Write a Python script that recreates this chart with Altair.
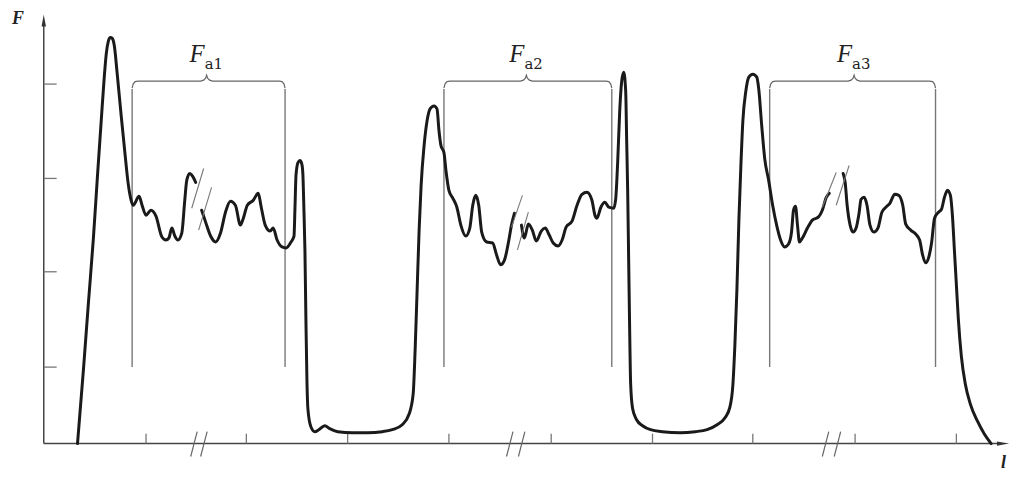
import altair as alt
import pandas as pd

# ---------------- data (l, F) ----------------
# the curve is split into four pieces at the "//" break marks
seg_a_l = [34, 40, 45, 50, 54, 58, 61, 63, 65, 67, 69, 71, 74, 78, 82, 85, 88, 90, 96, 99,
           103, 108, 113, 119, 123, 126, 129, 132, 135, 139, 142, 144, 147, 150, 153]
seg_a_F = [0, 75, 142, 207, 268, 327, 370, 393, 405, 409, 408, 401, 372, 330, 290, 262, 245, 240, 249, 240,
           230, 235, 229, 208, 205, 207, 217, 209, 205, 212, 245, 265, 272, 269, 263]

seg_b_l = [159, 163, 168, 173, 178, 183, 188, 193, 198, 201, 205, 211, 216, 219, 223, 228, 231, 235, 240, 244,
           249, 252, 253, 254, 256, 258, 260, 261, 262, 263, 264, 265, 266, 269, 273, 277, 283, 288, 296, 311,
           326, 341, 351, 361, 368, 372, 374, 376, 378, 380, 383, 386, 389, 393, 396, 398, 400, 403, 405, 408,
           412, 416, 420, 425, 429, 432, 435, 438, 441, 446, 452, 456, 460, 464, 468, 471, 474]
seg_b_F = [235, 223, 209, 203, 212, 233, 244, 240, 220, 227, 240, 245, 252, 238, 220, 214, 217, 205, 198, 197,
           203, 209, 238, 270, 283, 285, 281, 270, 235, 195, 125, 65, 35, 17, 12, 14, 18, 15, 12, 11,
           11, 12, 14, 19, 30, 50, 95, 155, 215, 260, 300, 325, 337, 340, 337, 315, 300, 293, 275, 255,
           247, 238, 220, 209, 217, 240, 250, 240, 213, 203, 202, 190, 180, 185, 203, 220, 232]

seg_c_l = [481, 484, 488, 492, 496, 501, 505, 509, 513, 518, 522, 526, 532, 537, 542, 547, 552, 555, 557, 561,
           565, 569, 574, 576, 578, 580, 582, 584, 586, 587, 588, 589, 590, 591, 593, 597, 603, 611, 623, 641,
           656, 668, 678, 686, 691, 694, 696, 698, 700, 702, 704, 707, 710, 714, 718, 720, 723, 726, 730, 734,
           738, 742, 746, 750, 753, 755, 757, 759, 761, 764, 769, 774, 780, 784, 788, 791]
seg_c_F = [220, 207, 221, 215, 204, 214, 217, 210, 202, 199, 205, 218, 224, 240, 251, 253, 245, 230, 227, 238,
           243, 238, 237, 247, 285, 335, 365, 374, 355, 305, 255, 185, 115, 60, 35, 24, 18, 14, 12, 11,
           12, 14, 19, 26, 37, 60, 100, 155, 225, 280, 325, 355, 369, 372, 369, 357, 320, 287, 265, 240,
           220, 205, 198, 201, 213, 235, 239, 220, 203, 207, 217, 225, 228, 235, 248, 252]

seg_d_l = [805, 807, 809, 812, 815, 818, 821, 823, 826, 829, 832, 836, 840, 844, 848, 852, 857, 861, 865, 868,
           873, 878, 882, 885, 888, 891, 894, 897, 901, 904, 907, 910, 913, 915, 917, 919, 921, 924, 928, 933,
           940, 947, 954]
seg_d_F = [272, 263, 240, 220, 213, 217, 232, 246, 248, 240, 220, 213, 217, 233, 238, 242, 251, 250, 240, 221,
           215, 211, 205, 190, 182, 187, 202, 227, 233, 236, 248, 255, 250, 230, 195, 160, 125, 88, 60, 40,
           23, 10, 0]

# axis ticks
y_ticks = [77, 173, 267, 362]
x_ticks = [103, 204, 306, 408, 511, 613, 714, 817, 919]

# brackets F_a1, F_a2, F_a3
br_sub = ["a1", "a2", "a3"]
br_left = [89, 403, 731]
br_right = [243, 572, 898]
br_mid = [164, 486, 816]

# "//" marks on the curve (l1, F1, l2, F2)
curve_breaks = [(149, 237, 161, 277), (156, 215, 169, 258),
                (471, 218, 482, 250), (477, 195, 488, 233),
                (784, 238, 798, 273), (798, 240, 811, 280)]
# "//" marks crossing the l axis (lower end l)
axis_breaks = [148, 158, 466, 478, 784, 796]

L_MAX, F_MAX = 971, 432

# ---------------- build tables ----------------
rows = []
for name, ls, fs in [("A", seg_a_l, seg_a_F), ("B", seg_b_l, seg_b_F),
                     ("C", seg_c_l, seg_c_F), ("D", seg_d_l, seg_d_F)]:
    for l, f in zip(ls, fs):
        rows.append({"seg": name, "l": l, "F": f})
curve = pd.DataFrame(rows)

xs = alt.Scale(domain=[0, L_MAX], nice=False, zero=False)
ys = alt.Scale(domain=[0, F_MAX], nice=False, zero=False)


def X(field="l"):
    return alt.X(f"{field}:Q", scale=xs, axis=None)


def Y(field="F"):
    return alt.Y(f"{field}:Q", scale=ys, axis=None)


def rule_layer(df, color, width):
    return alt.Chart(df).mark_rule(color=color, strokeWidth=width).encode(
        x=X("l"), x2="l2:Q", y=Y("F"), y2="F2:Q")


axes_df = pd.DataFrame([
    {"l": 0, "l2": 962, "F": 0, "F2": 0},
    {"l": 0, "l2": 0, "F": 0, "F2": 422},
])
ticks_df = pd.DataFrame(
    [{"l": 0, "l2": 13, "F": t, "F2": t} for t in y_ticks] +
    [{"l": t, "l2": t, "F": 0, "F2": 10} for t in x_ticks])
axis_break_df = pd.DataFrame([{"l": b, "l2": b + 6.5, "F": -13, "F2": 12} for b in axis_breaks])
curve_break_df = pd.DataFrame([{"l": a, "F": b, "l2": c, "F2": d} for a, b, c, d in curve_breaks])
vert_df = pd.DataFrame([{"l": x, "l2": x, "F": 77, "F2": 357} for x in br_left + br_right])

# bracket outlines
br_rows = []
for i, (a, b, c) in enumerate(zip(br_left, br_right, br_mid)):
    pts = [(a, 358), (a + 1, 362), (a + 3, 364.5), (a + 6, 365), (c - 6, 365), (c - 3, 366),
           (c - 1, 368), (c, 371), (c + 1, 368), (c + 3, 366), (c + 6, 365), (b - 6, 365),
           (b - 3, 364.5), (b - 1, 362), (b, 358)]
    for k, (px, py) in enumerate(pts):
        br_rows.append({"br": i, "o": k, "l": px, "F": py})
br_df = pd.DataFrame(br_rows)

lab_F = pd.DataFrame([{"l": c - 2, "F": 384, "t": "F"} for c in br_mid])
lab_sub = pd.DataFrame([{"l": c - 2, "F": 377, "t": s} for c, s in zip(br_mid, br_sub)])

arrows = pd.DataFrame([
    {"l": 0, "F": 426, "shape": "M0,-1L0.36,1L-0.36,1Z"},
    {"l": 966, "F": 0, "shape": "M1,0L-1,-0.36L-1,0.36Z"},
])

axis_titles = pd.DataFrame([
    {"l": -32, "F": 423, "t": "F"},
    {"l": 964, "F": -25, "t": "l"},
])

# ---------------- layers ----------------
axes_layer = rule_layer(axes_df, "#444444", 1.5)
ticks_layer = rule_layer(ticks_df, "#777777", 1.3)
axis_break_layer = rule_layer(axis_break_df, "#666666", 1.2)
curve_break_layer = rule_layer(curve_break_df, "#777777", 1.1)
vert_layer = rule_layer(vert_df, "#777777", 1.4)

arrow_layer = alt.Chart(arrows).mark_point(filled=True, color="#333333", size=150, opacity=1).encode(
    x=X(), y=Y(), shape=alt.Shape("shape:N", scale=None))

bracket_layer = alt.Chart(br_df).mark_line(color="#666666", strokeWidth=1.2).encode(
    x=X(), y=Y(), detail="br:N", order="o:Q")

curve_layer = alt.Chart(curve).mark_line(
    color="#1a1a1a", strokeWidth=3, interpolate="monotone", strokeJoin="round", strokeCap="round"
).encode(x=X(), y=Y(), detail="seg:N")

labF_layer = alt.Chart(lab_F).mark_text(
    align="right", baseline="alphabetic", font="Liberation Serif", fontStyle="italic",
    fontSize=25, color="#222222").encode(x=X(), y=Y(), text="t:N")
labSub_layer = alt.Chart(lab_sub).mark_text(
    align="left", baseline="alphabetic", font="DejaVu Serif",
    fontSize=15, color="#222222").encode(x=X(), y=Y(), text="t:N")

title_layer = alt.Chart(axis_titles).mark_text(
    align="left", baseline="alphabetic", font="Liberation Serif", fontStyle="italic",
    fontWeight="bold", fontSize=18, color="#222222").encode(x=X(), y=Y(), text="t:N")

chart = alt.layer(
    axes_layer, ticks_layer, axis_break_layer, vert_layer, bracket_layer,
    curve_layer, curve_break_layer, arrow_layer, labF_layer, labSub_layer, title_layer
).properties(
    width=L_MAX, height=F_MAX,
    autosize=alt.AutoSizeParams(type="none"),
    padding={"left": 36, "top": 5, "right": 2, "bottom": 28},
    background="white",
).configure_view(stroke=None)

chart.save("out.html", embed_options={"renderer": "svg", "actions": False})
